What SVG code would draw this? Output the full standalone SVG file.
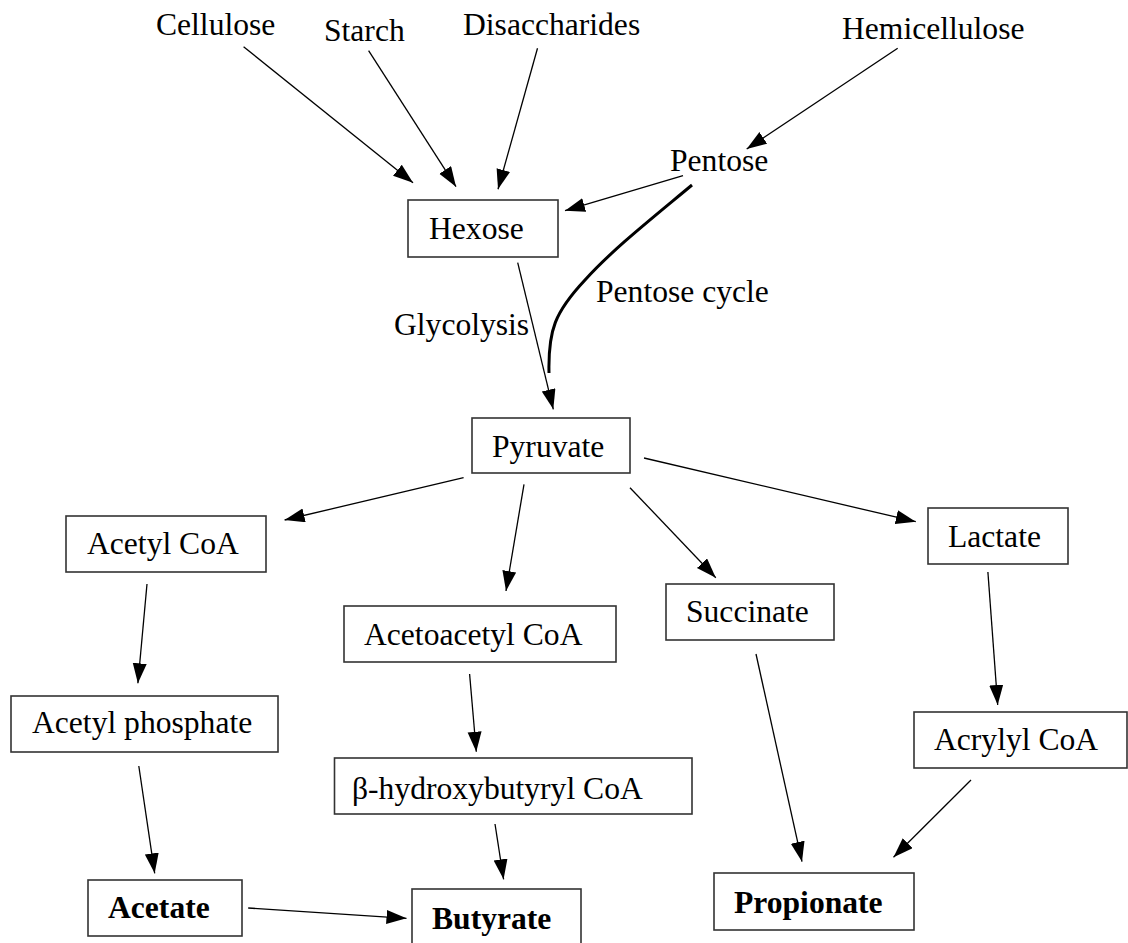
<svg xmlns="http://www.w3.org/2000/svg" width="1128" height="943" viewBox="0 0 1128 943">
<style>
text{font-family:"Liberation Serif","Times New Roman",serif;font-size:31.6px;fill:#000}
.b{font-weight:bold}
rect{fill:#fff;stroke:#333;stroke-width:1.6}
.c line{stroke:#000;stroke-width:1.3;marker-end:url(#ah)}
</style>
<defs>
<marker id="ah" markerUnits="userSpaceOnUse" markerWidth="21" markerHeight="15" refX="20" refY="7" orient="auto"><path d="M0,0 L20,7 L0,14 z" fill="#000"/></marker>
</defs>
<rect x="0" y="0" width="1128" height="943" style="stroke:none"/>
<g class="c" id="connectors">
<line x1="243.6" y1="46.7" x2="413" y2="182.7"/>
<line x1="368.6" y1="50.7" x2="456" y2="186.7"/>
<line x1="537.5" y1="48.3" x2="498" y2="189.3"/>
<line x1="897.7" y1="48.3" x2="746.7" y2="149"/>
<line x1="683" y1="175.7" x2="565" y2="210.7"/>
<line x1="517.7" y1="262.7" x2="553.3" y2="409.3"/>
<path d="M692,185 C650,220 612,250 585,280 C555,312 548,330 549,373" fill="none" stroke="#000" stroke-width="3"/>
<line x1="463.6" y1="477.7" x2="284.6" y2="520"/>
<line x1="524" y1="484.3" x2="506" y2="591"/>
<line x1="630" y1="487.7" x2="715.8" y2="577.7"/>
<line x1="644" y1="458" x2="915.8" y2="521.7"/>
<line x1="147" y1="584" x2="137.9" y2="683.3"/>
<line x1="469.6" y1="674" x2="476.3" y2="751.7"/>
<line x1="756" y1="654" x2="802" y2="861.7"/>
<line x1="987.9" y1="572" x2="997.7" y2="705"/>
<line x1="138.8" y1="766" x2="154.7" y2="873.3"/>
<line x1="495" y1="824" x2="503.6" y2="879.3"/>
<line x1="971" y1="780" x2="893.5" y2="857.3"/>
<line x1="248.2" y1="908" x2="406.5" y2="918.3"/>
</g>
<g id="cellulose"><text x="156" y="35">Cellulose</text></g>
<g id="starch"><text x="324" y="41">Starch</text></g>
<g id="disaccharides"><text x="463" y="35">Disaccharides</text></g>
<g id="hemicellulose"><text x="842" y="39">Hemicellulose</text></g>
<g id="pentose"><text x="670" y="171">Pentose</text></g>
<g id="hexose"><rect x="408" y="200" width="150" height="57"/><text x="429" y="239">Hexose</text></g>
<g id="glycolysis"><text x="394" y="335">Glycolysis</text></g>
<g id="pentose-cycle"><text x="596" y="302">Pentose cycle</text></g>
<g id="pyruvate"><rect x="472" y="418" width="158" height="55"/><text x="492" y="457">Pyruvate</text></g>
<g id="acetyl-coa"><rect x="66" y="516" width="200" height="56"/><text x="87" y="554">Acetyl CoA</text></g>
<g id="acetoacetyl-coa"><rect x="344" y="606" width="272" height="56"/><text x="364" y="645">Acetoacetyl CoA</text></g>
<g id="succinate"><rect x="666" y="584" width="168" height="56"/><text x="686" y="622">Succinate</text></g>
<g id="lactate"><rect x="928" y="508" width="140" height="56"/><text x="948" y="547">Lactate</text></g>
<g id="acetyl-phosphate"><rect x="11" y="696" width="267" height="56"/><text x="32" y="733">Acetyl phosphate</text></g>
<g id="hydroxybutyryl-coa"><rect x="334.5" y="758" width="357.5" height="56"/><text x="352" y="799">β-hydroxybutyryl CoA</text></g>
<g id="acrylyl-coa"><rect x="914" y="712" width="213" height="56"/><text x="934" y="750">Acrylyl CoA</text></g>
<g id="acetate"><rect x="88" y="880" width="154" height="56"/><text class="b" x="108" y="918">Acetate</text></g>
<g id="butyrate"><rect x="412" y="889" width="169" height="60"/><text class="b" x="432" y="929">Butyrate</text></g>
<g id="propionate"><rect x="714" y="873" width="200" height="57"/><text class="b" x="734" y="913">Propionate</text></g>
</svg>
